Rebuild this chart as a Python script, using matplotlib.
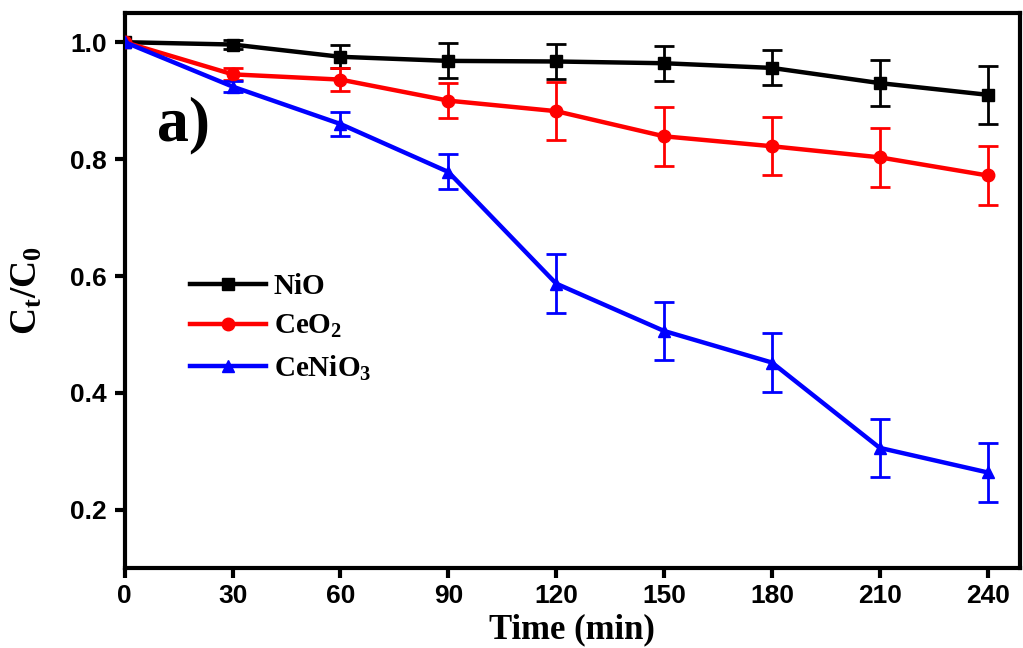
import matplotlib
matplotlib.use("Agg")
import matplotlib.pyplot as plt

time_min = [0, 30, 60, 90, 120, 150, 180, 210, 240]
nio = [1.0, 0.996, 0.975, 0.968, 0.967, 0.964, 0.956, 0.930, 0.910]
nio_err = [0.0, 0.008, 0.02, 0.03, 0.03, 0.03, 0.03, 0.04, 0.05]
ceo2 = [1.0, 0.945, 0.936, 0.900, 0.882, 0.839, 0.822, 0.803, 0.772]
ceo2_err = [0.0, 0.01, 0.02, 0.03, 0.05, 0.05, 0.05, 0.05, 0.05]
cenio3 = [1.0, 0.924, 0.860, 0.778, 0.587, 0.506, 0.452, 0.306, 0.264]
cenio3_err = [0.0, 0.01, 0.02, 0.03, 0.05, 0.05, 0.05, 0.05, 0.05]

series = [
    ("NiO", nio, nio_err, "#000000", "s"),
    ("CeO$_2$", ceo2, ceo2_err, "#ff0000", "o"),
    ("CeNiO$_3$", cenio3, cenio3_err, "#0000ff", "^"),
]
xticks = [0, 30, 60, 90, 120, 150, 180, 210, 240]
yticks = [0.2, 0.4, 0.6, 0.8, 1.0]

plt.rcParams['mathtext.fontset'] = 'custom'
plt.rcParams['mathtext.rm'] = 'Liberation Serif:bold'
plt.rcParams['mathtext.it'] = 'Liberation Serif:bold'
plt.rcParams['mathtext.bf'] = 'Liberation Serif:bold'

fig = plt.figure(figsize=(10.23, 6.48), dpi=100)
ax = fig.add_axes([0.122, 0.123, 0.875, 0.857])

for label, vals, errs, col, mk in series:
    ax.errorbar(time_min, vals, yerr=errs, fmt='none', ecolor=col,
                elinewidth=2, capsize=7, capthick=2, zorder=2)
    ax.plot(time_min, vals, color=col, marker=mk, lw=3.2, ms=9,
            label=label, zorder=3)

ax.set_xlim(0, 249)
ax.set_ylim(0.1, 1.05)
ax.set_xticks(xticks)
ax.set_yticks(yticks)
ax.set_xticklabels([str(t) for t in xticks])
ax.set_yticklabels([f"{v:.1f}" for v in yticks])
for lab in ax.get_xticklabels() + ax.get_yticklabels():
    lab.set_fontfamily('Liberation Sans')
    lab.set_fontweight('bold')
    lab.set_fontsize(19)

ax.tick_params(direction='out', length=7, width=3, top=False, right=False)
ax.tick_params(axis='x', pad=4)
ax.tick_params(axis='y', pad=6)
for sp in ax.spines.values():
    sp.set_linewidth(3)

ax.set_xlabel("Time (min)", fontfamily='Liberation Serif', fontweight='bold',
              fontsize=25, labelpad=4)
ax.set_ylabel("C$_t$/C$_0$", fontfamily='Liberation Serif', fontweight='bold',
              fontsize=27, labelpad=18)

ax.text(0.036, 0.77, "a)", transform=ax.transAxes, fontfamily='Liberation Serif',
        fontweight='bold', fontsize=46, va='baseline', ha='left')

leg = ax.legend(loc='upper left', bbox_to_anchor=(0.057, 0.558), frameon=False,
                prop={'family': 'Liberation Serif', 'weight': 'bold', 'size': 21},
                handlelength=2.6, handletextpad=0.25, labelspacing=0.45,
                borderpad=0)

fig.savefig("out.png", dpi=100, facecolor='white')
